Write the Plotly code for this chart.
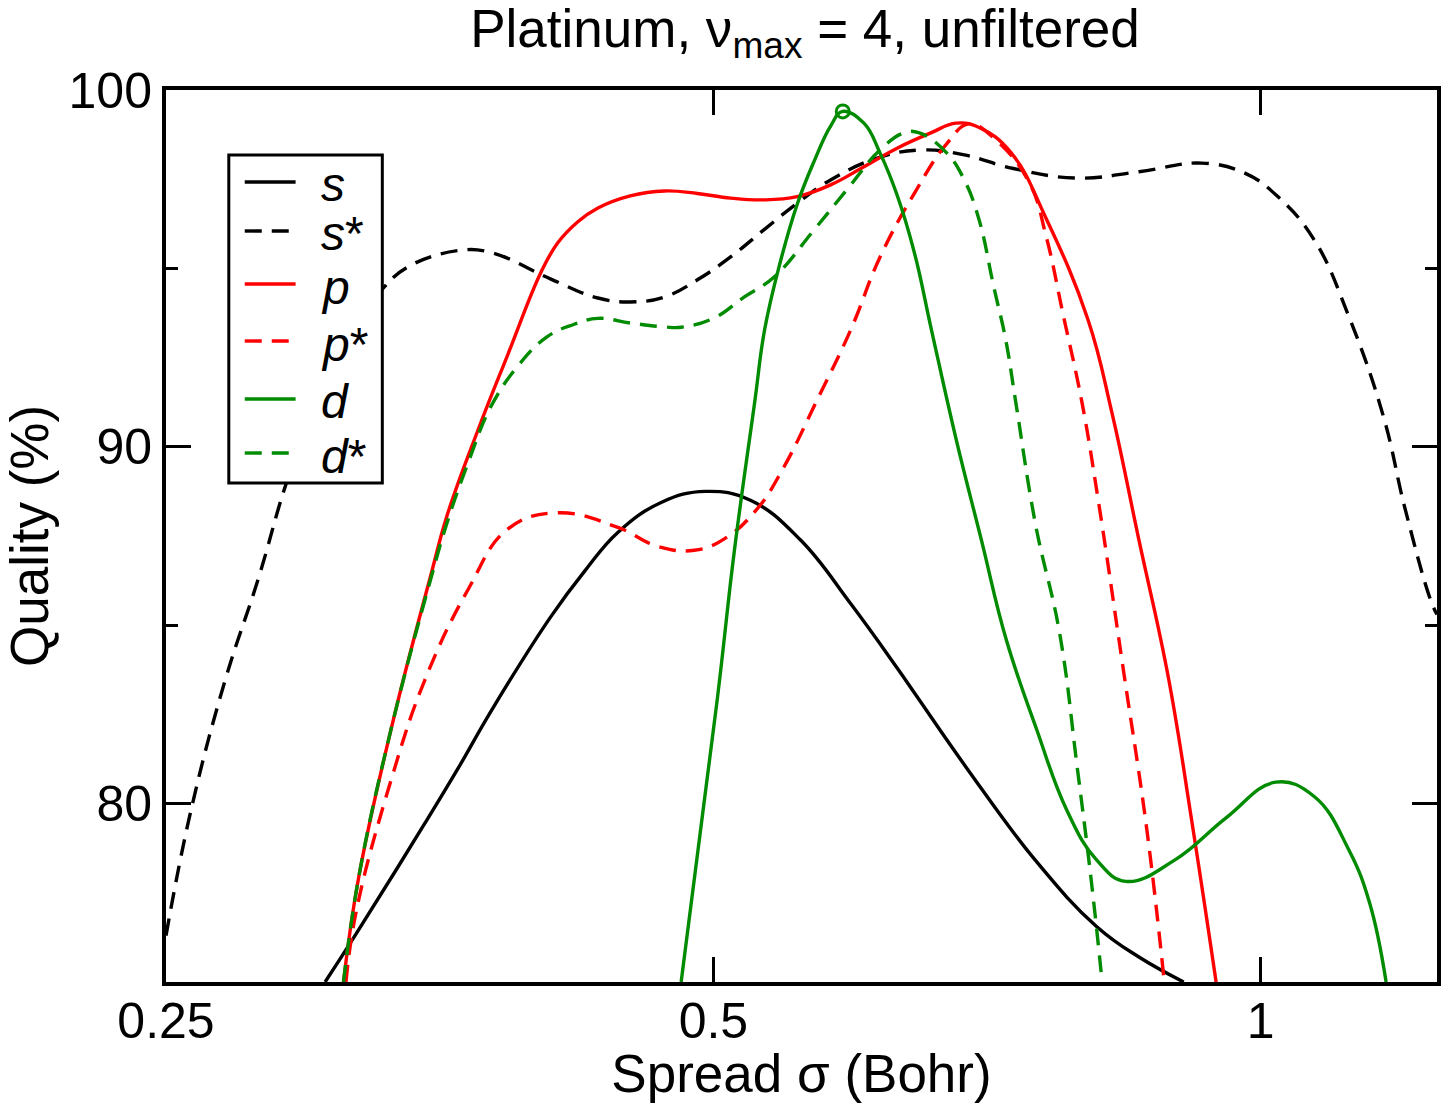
import plotly.graph_objects as go

# ---- data (sigma in Bohr, quality in %) ----
s_x = [0.3058, 0.3176, 0.347, 0.362, 0.3774, 0.407, 0.425, 0.443, 0.468, 0.495, 0.524, 0.558,
       0.595, 0.631, 0.647, 0.689, 0.752, 0.8125, 0.857, 0.907]
s_y = [75.0, 76.3, 79.45, 81.0, 82.6, 85.24, 86.53, 87.6, 88.44, 88.75, 88.5, 87.4,
       85.6, 83.8, 83.0, 81.0, 78.4, 76.55, 75.7, 75.0]

ss_x = [0.25, 0.258, 0.2696, 0.281, 0.2908, 0.30, 0.31, 0.32, 0.3285, 0.3398, 0.362, 0.377,
        0.407, 0.432, 0.450, 0.470, 0.490, 0.511, 0.533, 0.556, 0.580, 0.6175, 0.6525, 0.687,
        0.731, 0.7925, 0.857, 0.928, 0.98, 1.0225, 1.07, 1.118, 1.168, 1.20, 1.24, 1.25]
ss_y = [76.3, 79.8, 83.5, 86.3, 88.9, 90.8, 92.4, 93.6, 94.4, 95.05, 95.5, 95.45,
        94.7, 94.17, 94.06, 94.2, 94.68, 95.32, 96.08, 96.83, 97.48, 98.12, 98.32, 98.18,
        97.8, 97.53, 97.71, 97.95, 97.67, 97.0, 95.8, 93.65, 90.85, 88.3, 85.7, 85.3]

p_x = [0.313, 0.319, 0.3325, 0.3498, 0.357, 0.371, 0.3855, 0.402, 0.4105, 0.421, 0.432, 0.450,
       0.470, 0.490, 0.511, 0.533, 0.556, 0.580, 0.605, 0.631, 0.658, 0.68, 0.70, 0.729,
       0.762, 0.8035, 0.828, 0.857, 0.889, 0.917, 0.945]
p_y = [75.0, 77.9, 82.1, 86.45, 88.1, 90.45, 92.6, 94.9, 95.71, 96.3, 96.69, 97.03,
       97.17, 97.1, 96.97, 96.92, 97.01, 97.34, 97.85, 98.37, 98.79, 99.07, 98.95, 98.24,
       96.4, 93.56, 90.98, 87.39, 83.61, 79.41, 75.0]

ps_x = [0.314, 0.318, 0.3325, 0.347, 0.3665, 0.3855, 0.4105, 0.443, 0.466, 0.488, 0.507, 0.5285,
        0.5465, 0.570, 0.595, 0.6175, 0.645, 0.672, 0.691, 0.715, 0.746, 0.762, 0.779, 0.797,
        0.814, 0.84, 0.866, 0.885]
ps_y = [75.0, 76.95, 80.67, 83.47, 86.0, 87.7, 88.15, 87.74, 87.21, 87.1, 87.42, 88.26,
        89.42, 91.3, 93.28, 95.32, 97.11, 98.5, 99.05, 98.6, 97.4, 95.9, 93.65, 91.3,
        88.5, 83.8, 79.2, 75.0]

d_x = [0.480, 0.5024, 0.5135, 0.527, 0.5335, 0.544, 0.556, 0.568, 0.58, 0.589, 0.605, 0.6175,
       0.631, 0.645, 0.659, 0.680, 0.702, 0.7245, 0.753, 0.782, 0.812, 0.843, 0.8975, 0.957,
       1.019, 1.07, 1.118, 1.148, 1.172]
d_y = [75.0, 82.9, 87.1, 91.3, 93.28, 95.15, 96.8, 98.0, 98.99, 99.4, 99.07, 98.23,
       97.05, 95.43, 93.28, 90.2, 87.39, 84.59, 82.07, 79.83, 78.43, 77.82, 78.43, 79.6,
       80.6, 80.2, 78.7, 77.2, 75.0]

ds_x = [0.313, 0.319, 0.3325, 0.3498, 0.357, 0.3665, 0.377, 0.39, 0.405, 0.4185, 0.432, 0.45,
        0.47, 0.48, 0.50, 0.52, 0.54, 0.568, 0.592, 0.6175, 0.6365, 0.649, 0.672, 0.687,
        0.70, 0.713, 0.724, 0.733, 0.752, 0.775, 0.7925, 0.807, 0.818]
ds_y = [75.0, 77.9, 82.1, 86.35, 87.9, 89.55, 91.1, 92.24, 93.08, 93.42, 93.6, 93.47,
        93.36, 93.35, 93.6, 94.2, 94.76, 96.08, 97.2, 98.32, 98.8, 98.8, 98.23, 97.48,
        96.36, 94.5, 93.0, 91.3, 87.8, 84.8, 81.04, 77.8, 75.0]

best_x = [0.589]
best_y = [99.4]

series_names = ["<i>s</i>", "<i>s</i>*", "<i>p</i>", "<i>p</i>*", "<i>d</i>", "<i>d</i>*"]

x_ticks = [0.25, 0.5, 1]
x_ticktext = ["0.25", "0.5", "1"]
y_ticks = [80, 90, 100]

BLACK = "#000000"
RED = "#ff0000"
GREEN = "#008b00"
DASH = "17px,10px"
LW = 3.4

series = [
    (s_x, s_y, BLACK, "solid"),
    (ss_x, ss_y, BLACK, DASH),
    (p_x, p_y, RED, "solid"),
    (ps_x, ps_y, RED, DASH),
    (d_x, d_y, GREEN, "solid"),
    (ds_x, ds_y, GREEN, DASH),
]

fig = go.Figure()
for name, (xs, ys, col, dash) in zip(series_names, series):
    fig.add_trace(go.Scatter(x=xs, y=ys, mode="lines", name=name, showlegend=False,
                             line=dict(color=col, width=LW, dash=dash, shape="spline", smoothing=1.2)))

fig.add_trace(go.Scatter(x=best_x, y=best_y, mode="markers", showlegend=False,
                         marker=dict(symbol="circle-open", size=13, color=GREEN,
                                     line=dict(width=3, color=GREEN))))

FONT = "Liberation Sans, Arial, Helvetica, sans-serif"

# plot-area geometry (pixels) used for the hand-drawn legend box
L, R, T, B = 166, 1441, 90, 982
def px(xp):
    return (xp - L) / (R - L)
def py(yp):
    return (B - yp) / (B - T)

shapes = [dict(type="rect", xref="paper", yref="paper",
               x0=px(229), x1=px(383), y0=py(483), y1=py(155),
               line=dict(color="black", width=3), fillcolor="white", layer="above")]
annotations = []
legend_rows = [182, 231, 284, 341, 399, 453]
for name, (xs, ys, col, dash), yy in zip(series_names, series, legend_rows):
    shapes.append(dict(type="line", xref="paper", yref="paper",
                       x0=px(245), x1=px(296), y0=py(yy), y1=py(yy),
                       line=dict(color=col, width=LW, dash=dash), layer="above"))
    annotations.append(dict(xref="paper", yref="paper", x=px(319), y=py(yy),
                            xanchor="left", yanchor="middle", yshift=-3,
                            text=name, showarrow=False,
                            font=dict(family=FONT, size=48, color="black")))

fig.update_layout(
    width=1446, height=1103,
    margin=dict(l=L, r=1446 - R, t=T, b=1103 - B),
    paper_bgcolor="white", plot_bgcolor="white",
    font=dict(family=FONT, size=49, color="black"),
    title=dict(text="Platinum, ν<sub>max</sub> = 4, unfiltered",
               x=805 / 1446, xanchor="center",
               y=1 - 10 / 1103, yanchor="top", yref="container",
               font=dict(family=FONT, size=53, color="black")),
    showlegend=False,
    shapes=shapes,
    annotations=annotations,
)

fig.update_xaxes(
    type="log",
    range=[-0.6020600, 0.0969100],
    tickvals=x_ticks, ticktext=x_ticktext,
    ticks="inside", ticklen=25, tickwidth=3, tickcolor="black",
    showline=True, linewidth=4, linecolor="black", mirror="ticks",
    showgrid=False, zeroline=False,
    tickfont=dict(family=FONT, size=50),
    ticklabelstandoff=-8,
    title=dict(text="Spread σ (Bohr)", font=dict(family=FONT, size=53), standoff=4),
)
fig.update_yaxes(
    range=[75, 100],
    tickvals=y_ticks,
    ticks="inside", ticklen=25, tickwidth=3, tickcolor="black",
    minor=dict(dtick=5, tick0=75, ticks="inside", ticklen=12, tickwidth=3, tickcolor="black"),
    showline=True, linewidth=4, linecolor="black", mirror="ticks",
    showgrid=False, zeroline=False,
    tickfont=dict(family=FONT, size=50),
    title=dict(text="Quality (%)", font=dict(family=FONT, size=53), standoff=20),
)

fig.write_html("out.html")
